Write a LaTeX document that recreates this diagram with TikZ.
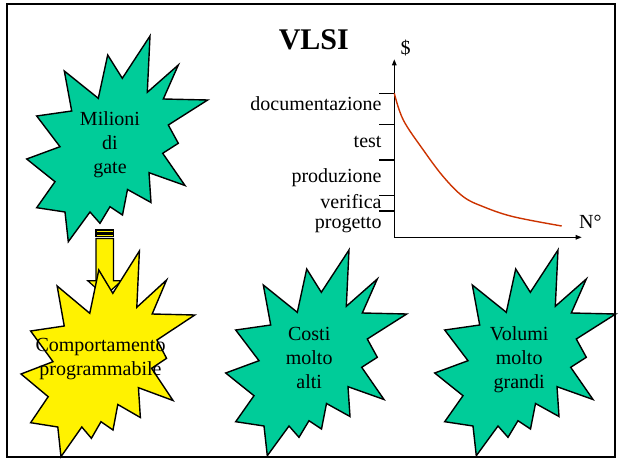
\documentclass[tikz,border=0pt]{standalone}
\usepackage{fontspec}
\setmainfont{Liberation Serif}
\usetikzlibrary{arrows.meta}
\definecolor{burstgreen}{RGB}{0,204,153}
\definecolor{curvered}{RGB}{204,51,0}
\def\burstpts{(150,36) -- (147.3,92.3) -- (178.3,65) -- (163.3,99) -- (207.7,100) -- (168.3,125) -- (178.3,143.3) -- (162.7,153.3) -- (185,185.5) -- (149,172.7) -- (151,202.5) -- (127.5,189.5) -- (122.5,215) -- (110,206.7) -- (100,223.3) -- (90,212) -- (68.3,241.7) -- (65,212) -- (36.7,207.7) -- (55,181.7) -- (26.7,159) -- (60,146.7) -- (36.7,116) -- (71.7,111) -- (64.3,71) -- (98.3,98.3) -- (107.7,55) -- (122.3,78.3) -- cycle}
\begin{document}
\begin{tikzpicture}[x=1pt,y=-1pt,
  burst/.style={draw=black,line width=1.4pt,line join=miter,fill=burstgreen},
  yburst/.style={burst,fill=yellow},
  bursttext/.style={font=\fontsize{20}{24}\selectfont,align=center,anchor=base,inner sep=0pt},
  lbl/.style={font=\fontsize{20}{24}\selectfont,anchor=base east,inner sep=0pt},
  axislabel/.style={font=\fontsize{20}{24}\selectfont,anchor=base west,inner sep=0pt},
  axisline/.style={line width=1.2pt,-{Triangle[length=6pt,width=4.5pt]}},
  tickline/.style={line width=1.2pt},
  stripe/.style={draw=black,line width=1.2pt,fill=yellow}]
\useasboundingbox (0,0) rectangle (620,462);
\draw[line width=2pt] (7,4) rectangle (615,457);
% title
\node[font=\fontsize{30}{36}\selectfont\bfseries,anchor=base,inner sep=0pt] (title) at (313.8,50) {VLSI};
% bursts
\path[burst] \burstpts;
\node[bursttext] (milioni) at (110,174) {Milioni\\di\\gate};
\begin{scope}[shift={(199,214)}]
\path[burst] \burstpts;
\end{scope}
\node[bursttext] (costi) at (309.2,388.3) {Costi\\molto\\alti};
\begin{scope}[shift={(408,214)}]
\path[burst] \burstpts;
\end{scope}
\node[bursttext] (volumi) at (519.2,388.3) {Volumi\\molto\\grandi};
% striped arrow
\draw[stripe] (96,230) rectangle (113.5,232.3);
\draw[stripe] (96,234) rectangle (113.5,236.8);
\draw[stripe,line join=miter] (96,238.5) -- (113.5,238.5) -- (113.5,280.7) -- (121.7,280.7) -- (104.75,296) -- (87.7,280.7) -- (96,280.7) -- cycle;
\begin{scope}[shift={(-4.6,215)},xscale=0.96]
\path[yburst] \burstpts;
\end{scope}
\node[bursttext] (comport) at (100.5,375.7) {Comportamento\\programmabile};
% chart
\coordinate (o) at (394.3,237.3);
\coordinate (ytop) at (394.3,59.3);
\coordinate (xend) at (581.7,237.3);
\draw[axisline] (o) -- (ytop);
\draw[axisline] (o) -- (xend);
\foreach \yy in {93.3,124.3,160,195.3,211} \draw[tickline] (379,\yy) -- (394.3,\yy);
\node[lbl] (doc) at (381.7,111) {documentazione};
\node[lbl] (test) at (381.7,147.3) {test};
\node[lbl] (prod) at (381.7,182.7) {produzione};
\node[lbl] (ver) at (381.7,208.3) {verifica};
\node[lbl] (prog) at (381.7,228.5) {progetto};
\node[axislabel] (dollar) at (400.5,55) {\$};
\node[axislabel] (num) at (579,228.5) {N°};
\draw[curvered,line width=1.4pt] plot[smooth,tension=0.6] coordinates {(394.3,93.3) (403.3,120) (423.3,150) (443.3,176.7) (463.3,196.7) (483.3,206.7) (513.3,216.7) (561.7,226)};
\end{tikzpicture}
\end{document}
